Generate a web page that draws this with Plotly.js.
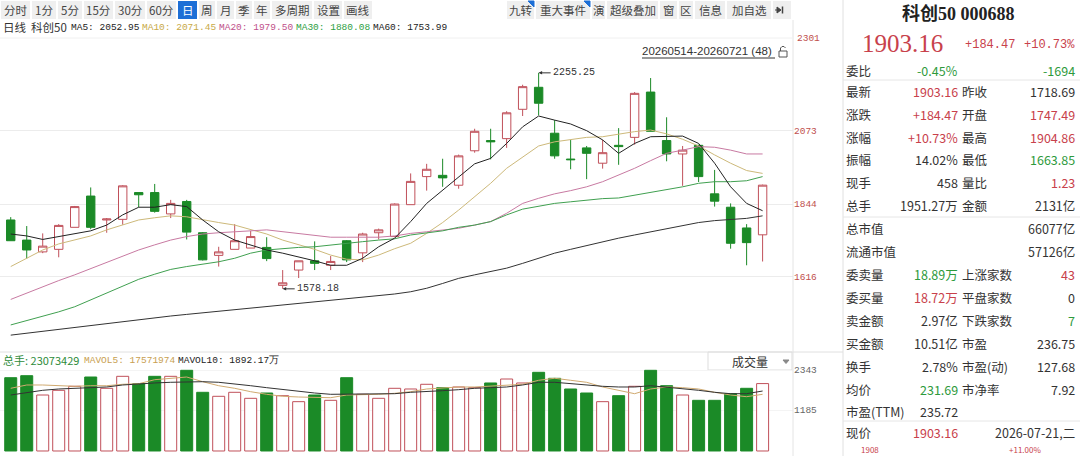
<!DOCTYPE html>
<html><head><meta charset="utf-8">
<script src="https://cdn.plot.ly/plotly-3.0.1.min.js"></script>
<style>html,body{margin:0;padding:0;background:#fff;}#chart{width:1080px;height:456px;}</style>
</head><body><div id="chart"></div>
<script>
// ---------------- DATA ----------------
const dates = ['2026-05-14','2026-05-15','2026-05-18','2026-05-19','2026-05-20','2026-05-21','2026-05-22','2026-05-25','2026-05-26','2026-05-27','2026-05-28','2026-05-29','2026-06-01','2026-06-02','2026-06-03','2026-06-04','2026-06-05','2026-06-08','2026-06-09','2026-06-10','2026-06-11','2026-06-12','2026-06-15','2026-06-16','2026-06-17','2026-06-18','2026-06-22','2026-06-23','2026-06-24','2026-06-25','2026-06-26','2026-06-29','2026-06-30','2026-07-01','2026-07-02','2026-07-03','2026-07-06','2026-07-07','2026-07-08','2026-07-09','2026-07-10','2026-07-13','2026-07-14','2026-07-15','2026-07-16','2026-07-17','2026-07-20','2026-07-21'];
const openP  = [1794,1731,1694,1702,1771,1869,1794,1796,1880,1880,1813,1852,1754,1683,1702,1706,1708,1589,1637,1666,1652,1729,1691,1754,1742,1842,1930,1934,1903,2011,2043,2049,2141,2210,2066,1985,2020,1972,2028,2053,2195,2043,2001,2028,1876,1834,1769,1747.49];
const highP  = [1803,1775,1752,1781,1838,1896,1800,1903,1880,1907,1857,1857,1756,1710,1781,1760,1740,1637,1666,1727,1681,1731,1754,1767,1846,1940,1970,1986,1999,2080,2080,2135,2218,2255.25,2107,2045,2026,2045,2082,2195,2239,2116,2026,2030,1951,1846,1781,1904.86];
const lowP   = [1729,1673,1690,1677,1771,1765,1754,1779,1834,1817,1800,1733,1667,1648,1702,1706,1665,1578.18,1612,1637,1637,1662,1662,1733,1742,1842,1886,1898,1892,2005,1984,2020,2120,2122,1986,1953,1922,1955,1967,2030,2072,1978,1901,1913,1836,1704,1652,1663.85];
const closeP = [1729,1700,1712,1777,1836,1771,1797,1901,1873,1821,1846,1756,1669,1694,1729,1742,1673,1597,1666,1658,1664,1669,1750,1763,1844,1915,1953,1926,1995,2072,2039,2130,2212,2160,1995,1983,2003,2005,2024,2191,2072,2001,2013,1930,1853,1721,1723,1903.16];
const ma5  = [1750,1744,1733,1742,1752,1760,1778,1810,1834,1834,1842,1836,1794,1757,1731,1716,1700,1690,1679,1666,1652,1652,1674,1710,1737,1789,1846,1888,1930,1970,1987,2034,2086,2120,2107,2095,2074,2045,2003,2034,2055,2055,2057,2034,1972,1898,1846,1823];
const ma10 = [1648,1675,1700,1719,1732,1744,1763,1778,1794,1801,1807,1804,1794,1786,1778,1765,1750,1731,1716,1702,1684,1671,1669,1684,1704,1721,1752,1786,1825,1867,1909,1956,1992,2026,2039,2047,2053,2055,2064,2071,2076,2064,2047,2026,1998,1972,1949,1940];
const ma20 = [1545,1565,1585,1604,1622,1641,1660,1680,1700,1716,1731,1742,1750,1754,1756,1760,1763,1757,1752,1744,1740,1740,1740,1740,1744,1752,1757,1763,1768,1778,1789,1815,1846,1862,1876,1886,1898,1914,1935,1956,1980,2003,2013,2024,2022,2013,2001,2001];
const ma30 = [1465,1478,1491,1506,1522,1543,1564,1586,1608,1624,1639,1648,1656,1663,1674,1690,1700,1705,1708,1710,1716,1721,1726,1731,1735,1747,1754,1760,1771,1778,1789,1810,1828,1838,1846,1851,1857,1861,1863,1872,1880,1888,1898,1909,1914,1914,1917,1930];
const ma60 = [1433,1439,1446,1452,1459,1465,1471,1477,1483,1488,1493,1498,1503,1508,1513,1517,1522,1527,1532,1536,1541,1546,1551,1556,1562,1569,1580,1595,1611,1622,1632,1643,1658,1674,1690,1702,1714,1726,1737,1747,1757,1767,1777,1786,1792,1796,1799,1807];
const volume = [2122,2180,1621,1757,1873,2142,1815,2162,1948,2162,2162,2336,1699,1583,1699,1525,1679,1601,1428,1621,1467,2122,1641,1525,1815,1795,1931,1833,1853,1833,1969,2084,1969,2278,2104,1795,1679,1428,1601,1873,2336,1891,1621,1467,1467,1659,1815,1951.27];
const mavol5  = [1815,1911,1911,1890,1873,1890,1890,1931,1948,2064,2105,2142,2006,1890,1815,1717,1641,1584,1563,1563,1543,1621,1621,1641,1670,1717,1795,1833,1853,1853,1873,1890,1931,2047,2105,2047,1989,1853,1757,1659,1795,1853,1833,1795,1699,1621,1572,1641];
const mavol10 = [1621,1699,1757,1795,1815,1833,1853,1911,1948,1969,1989,2006,2006,1989,1948,1890,1833,1775,1717,1679,1641,1641,1641,1641,1659,1699,1717,1746,1775,1815,1833,1853,1911,1989,1989,1948,1911,1873,1853,1853,1890,1853,1815,1757,1699,1659,1659,1737];
const priceTicks = [1616, 1844, 2073];
const priceTopLabel = '2301';
const volTicks = [1185, 2343];
const maLegend = ['MA5: 2052.95','MA10: 2071.45','MA20: 1979.50','MA30: 1880.08','MA60: 1753.99'];
const volLegend = ['总手: 23073429','MAVOL5: 17571974','MAVOL10: 1892.17万'];
const rangeLabel = '20260514-20260721 (48)';
const toolbarLeft = ['分时','1分','5分','15分','30分','60分','日','周','月','季','年','多周期','设置','画线'];
const toolbarRight = ['九转','重大事件','演','超级叠加','窗','区','信息','加自选'];
const titleText = '科创50 000688';
const lastPrice = '1903.16', lastChange = '+184.47', lastPct = '+10.73%';
const infoLabels1 = ['委比','最新','涨跌','涨幅','振幅','现手','总手','总市值','流通市值','委卖量','委买量','卖金额','买金额','换手','均价','市盈(TTM)','现价'];
const infoValues1 = ['-0.45%','1903.16','+184.47','+10.73%','14.02%','458','1951.27万','','','18.89万','18.72万','2.97亿','10.51亿','2.78%','231.69','235.72','1903.16'];
const infoLabels2 = ['','昨收','开盘','最高','最低','量比','金额','','','上涨家数','平盘家数','下跌家数','市盈','市盈(动)','市净率','',''];
const infoValues2 = ['-1694','1718.69','1747.49','1904.86','1663.85','1.23','2131亿','66077亿','57126亿','43','0','7','236.75','127.68','7.92','','2026-07-21,二'];
const bottomCut = ['1908','+11.00%'];

// ---------------- STYLE / LAYOUT HELPERS ----------------
const PW = 793, H = 456;
const X = v => v / PW;
const Y = v => 1 - v / H;
const CJK = 'Noto Sans CJK SC, Noto Sans, sans-serif';
const MONO = 'Liberation Mono, DejaVu Sans Mono, monospace';
const RED = '#c8414b', GREEN = '#2e9a3c', BLACK = '#333333';
const UPC = '#c0505a', DNC = '#1b8a27';

function T(x, y, text, o) {
  o = o || {};
  return {xref:'paper', yref:'paper', x:X(x), y:Y(y), text:text, showarrow:false,
    xanchor:o.anchor || 'left', yanchor:'middle', borderpad:0,
    font:{family:o.family || CJK, size:o.size || 12.5, color:o.color || BLACK, weight:o.weight || 'normal'}};
}
function L(x0, y0, x1, y1, c, w) {
  return {type:'line', xref:'paper', yref:'paper', x0:X(x0), y0:Y(y0), x1:X(x1), y1:Y(y1), line:{color:c, width:w || 1}};
}
function R(x0, y0, x1, y1, fill, lc) {
  return {type:'rect', xref:'paper', yref:'paper', x0:X(x0), y0:Y(y0), x1:X(x1), y1:Y(y1), fillcolor:fill, line:{color:lc || fill, width:lc ? 1 : 0}, layer:'below'};
}
function P(pts, fill, lc) {
  let d = pts.map((p, i) => (i ? 'L' : 'M') + X(p[0]) + ',' + Y(p[1])).join(' ');
  return {type:'path', xref:'paper', yref:'paper', path:d + (fill ? ' Z' : ''), fillcolor:fill || 'rgba(0,0,0,0)', line:{color:lc || fill, width:1}};
}

const shapes = [], annotations = [];

// toolbar
const leftPos = [[1,30],[32,56],[58,82],[84,113],[115,145],[147,176],[178,197],[199,215],[217,234],[236,252],[254,270],[272,312],[314,342],[344,372]];
toolbarLeft.forEach((t, i) => {
  const sel = t === '日';
  shapes.push(R(leftPos[i][0], 1, leftPos[i][1], 19, sel ? '#1d6fd6' : '#efefef'));
  annotations.push(T((leftPos[i][0] + leftPos[i][1]) / 2, 10, t, {anchor:'center', size:11.5, color: sel ? '#ffffff' : '#444'}));
});
const rightPos = [[507,534],[536,590],[592,605],[607,658],[660,677],[679,693],[695,725],[727,771]];
toolbarRight.forEach((t, i) => {
  shapes.push(R(rightPos[i][0], 1, rightPos[i][1], 19, '#efefef'));
  annotations.push(T((rightPos[i][0] + rightPos[i][1]) / 2, 10, t, {anchor:'center', size:11.5, color:'#444'}));
});
shapes.push(R(773, 1, 791, 19, '#efefef'));
shapes.push(P([[777,7],[781,10],[777,13]], '#444'));
shapes.push(P([[775,10],[779,10]], null, '#444'));
shapes.push(L(782.5, 6.5, 782.5, 13.5, '#444', 1.5));
shapes.push(P([[528,1],[534,1],[534,7]], '#1d6fd6'));
shapes.push(P([[584,1],[590,1],[590,7]], '#1d6fd6'));

// frame lines
shapes.push(L(793, 20, 793, 456, '#e4e4e4'));
shapes.push(L(843, 0, 843, 456, '#e0e0e0'));
shapes.push(L(0, 352, 843, 352, '#e0e0e0'));
shapes.push(L(0, 38, 793, 38, '#f0f0f0'));
[80, 217, 421].forEach(y => shapes.push(L(843, y, 1080, y, '#e6e6e6')));

// legend row
annotations.push(T(2, 27, '日线', {size:11.5}));
annotations.push(T(30, 27, '科创50', {size:11.5}));
const maLegX = [70, 141, 218, 295, 372];
const maLegC = ['#222222', '#c8aa48', '#c0508a', '#2ea043', '#222222'];
maLegend.forEach((m, i) => annotations.push(T(maLegX[i], 27, m, {family:MONO, size:9.5, color:maLegC[i]})));

// volume legend
const volLegX = [2, 83, 177];
const volLegC = ['#2e8b3a', '#c8a050', '#222222'];
volLegend.forEach((t, i) => annotations.push(T(volLegX[i], 360, t, {family: i === 0 ? CJK : MONO, size: i === 0 ? 11 : 9.5, color:volLegC[i]})));

// range label + lock
annotations.push(T(641, 51, rangeLabel, {family:'Liberation Sans, Arial', size:11.5, color:'#333'}));
shapes.push(L(642, 58, 775, 58, '#333'));
shapes.push(R(779, 51, 787, 57, '#ffffff', '#555'));
shapes.push(P([[780.5,51],[780.5,48],[782,46.5],[784,46.5],[785.5,48]], null, '#555'));

// top price label
annotations.push(T(796, 38, priceTopLabel, {family:MONO, size:9.5, color:'#c0504d'}));

// volume selector box
shapes.push(R(708, 352, 792, 370, '#ffffff', '#dddddd'));
annotations.push(T(750, 361, '成交量', {anchor:'center', size:12}));
shapes.push(P([[783,360],[789,360],[786,363.5]], '#888'));

// right panel
annotations.push(T(958, 14, titleText, {anchor:'center', family:'Liberation Serif, ' + CJK, size:18, weight:'bold', color:'#222'}));
annotations.push(T(903, 44, lastPrice, {anchor:'center', family:'Liberation Serif', size:25, color:RED}));
annotations.push(T(964, 45, lastChange, {family:MONO, size:12, color:RED}));
annotations.push(T(1076, 45, lastPct, {anchor:'right', family:MONO, size:12, color:RED}));
const rowY = [70.5,91.5,114,137,159.5,182.5,205,228.5,251.5,274.5,297,320.5,343.5,366.5,389.5,411,432.5];
const c1 = [GREEN,RED,RED,RED,BLACK,BLACK,BLACK,BLACK,BLACK,GREEN,RED,BLACK,BLACK,BLACK,GREEN,BLACK,RED];
const c2 = [GREEN,BLACK,RED,RED,GREEN,RED,BLACK,BLACK,BLACK,RED,BLACK,GREEN,BLACK,BLACK,BLACK,BLACK,BLACK];
infoLabels1.forEach((t, i) => {
  annotations.push(T(845, rowY[i], t));
  if (infoValues1[i]) annotations.push(T(959, rowY[i], infoValues1[i], {anchor:'right', color:c1[i]}));
  if (infoLabels2[i]) annotations.push(T(961, rowY[i], infoLabels2[i]));
  if (infoValues2[i]) annotations.push(T(1076, rowY[i], infoValues2[i], {anchor:'right', color:c2[i]}));
});
annotations.push(T(860, 449.5, bottomCut[0], {size:8, color:RED}));
annotations.push(T(1008, 449.5, bottomCut[1], {size:8, color:RED}));

// high / low markers from data
let iHi = 0, iLo = 0;
highP.forEach((v, i) => { if (v > highP[iHi]) iHi = i; });
lowP.forEach((v, i) => { if (v < lowP[iLo]) iLo = i; });
[[iHi, highP[iHi]], [iLo, lowP[iLo]]].forEach(([i, v]) => annotations.push({
  xref:'x', yref:'y', x:dates[i], y:v, text:v.toFixed(2), showarrow:true, arrowhead:2, arrowsize:0.7,
  arrowwidth:1, arrowcolor:'#333', ax:12, ay:0, xanchor:'left', yanchor:'middle', standoff:0,
  font:{family:MONO, size:10, color:'#333'}
}));

// ---------------- TRACES ----------------
const up = closeP.map((c, i) => c >= openP[i]);
const traces = [
  {type:'candlestick', x:dates, open:openP, high:highP, low:lowP, close:closeP, xaxis:'x', yaxis:'y',
   increasing:{line:{color:UPC, width:1}, fillcolor:'#ffffff'},
   decreasing:{line:{color:DNC, width:1}, fillcolor:DNC},
   hoverinfo:'skip', showlegend:false},
  {type:'scatter', mode:'lines', x:dates, y:ma10, line:{color:'#cdb97a', width:1}, yaxis:'y', showlegend:false},
  {type:'scatter', mode:'lines', x:dates, y:ma20, line:{color:'#c87aa2', width:1}, yaxis:'y', showlegend:false},
  {type:'scatter', mode:'lines', x:dates, y:ma30, line:{color:'#40a050', width:1}, yaxis:'y', showlegend:false},
  {type:'scatter', mode:'lines', x:dates, y:ma60, line:{color:'#333333', width:1}, yaxis:'y', showlegend:false},
  {type:'scatter', mode:'lines', x:dates, y:ma5, line:{color:'#222222', width:1}, yaxis:'y', showlegend:false},
  {type:'bar', x:dates, y:volume, yaxis:'y2', showlegend:false,
   marker:{color:up.map(u => u ? '#ffffff' : DNC), line:{color:up.map(u => u ? UPC : DNC), width:1}}},
  {type:'scatter', mode:'lines', x:dates, y:mavol5, line:{color:'#d0aa70', width:1}, yaxis:'y2', showlegend:false},
  {type:'scatter', mode:'lines', x:dates, y:mavol10, line:{color:'#333333', width:1}, yaxis:'y2', showlegend:false}
];

const layout = {
  width:1080, height:456, margin:{l:0, r:287, t:0, b:0},
  paper_bgcolor:'#ffffff', plot_bgcolor:'#ffffff', showlegend:false,
  boxgap:0.25, bargap:0.25, hovermode:false,
  font:{family:CJK, size:12, color:'#333'},
  xaxis:{type:'category', range:[-0.67, 48.9], showticklabels:false, showgrid:false, zeroline:false,
         showline:false, ticks:'', rangeslider:{visible:false}, anchor:'y2', fixedrange:true},
  yaxis:{domain:[Y(350), Y(30)], range:[1386.4, 2389.6], side:'right', tickvals:priceTicks,
         ticktext:priceTicks.map(String), tickfont:{family:MONO, size:9.5, color:'#c0504d'},
         gridcolor:'#ececec', showline:false, zeroline:false, ticks:'', fixedrange:true},
  yaxis2:{domain:[0, Y(352)], range:[-145, 2866], side:'right', tickvals:volTicks,
         ticktext:volTicks.map(String), tickfont:{family:MONO, size:9.5, color:'#666'},
         gridcolor:'#f4f4f4', showline:false, zeroline:false, ticks:'', fixedrange:true},
  shapes:shapes, annotations:annotations
};
Plotly.newPlot('chart', traces, layout, {staticPlot:true, displayModeBar:false});
</script></body></html>
